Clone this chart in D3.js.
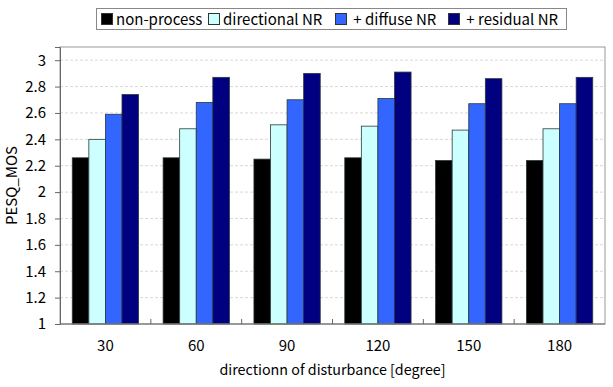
<!DOCTYPE html>
<html>
<head>
<meta charset="utf-8">
<script src="https://cdn.jsdelivr.net/npm/d3@7"></script>
<style>
  body { margin: 0; background: #fff; }
  text { font-family: "Noto Sans CJK JP", "DejaVu Sans", sans-serif; }
</style>
</head>
<body>
<svg id="chart" width="613" height="387"></svg>
<script>
// data
const angles = ["30", "60", "90", "120", "150", "180"];
const seriesNames = ["non-process", "directional NR", "\u00a0+ diffuse NR", "\u00a0+ residual NR"];
const seriesColors = ["#000000", "#ccffff", "#3366ff", "#000080"];
const nonProcess  = [2.26, 2.26, 2.25, 2.26, 2.24, 2.24];
const directional = [2.40, 2.48, 2.51, 2.50, 2.47, 2.48];
const diffuse     = [2.59, 2.68, 2.70, 2.71, 2.67, 2.67];
const residual    = [2.74, 2.87, 2.90, 2.91, 2.86, 2.87];
const yTicks = [1, 1.2, 1.4, 1.6, 1.8, 2, 2.2, 2.4, 2.6, 2.8, 3];

const allSeries = [nonProcess, directional, diffuse, residual];

const svg = d3.select("#chart");
const margin = {left: 60, top: 47, right: 8, bottom: 63};
const width = 613 - margin.left - margin.right;
const height = 387 - margin.top - margin.bottom;

const g = svg.append("g").attr("transform", `translate(${margin.left},${margin.top})`);

let x = d3.scaleBand().domain(angles).range([0, width]).paddingInner(0).paddingOuter(0);
let inner = d3.scaleBand().domain(d3.range(4)).range([0, x.bandwidth() * 0.73]);
let groupOffset = (x.bandwidth() - inner.range()[1]) / 2;
let y = d3.scaleLinear().domain([1, 3.1]).range([height, 0]);

// grid
g.append("g").selectAll("line").data(yTicks.slice(1)).join("line")
  .attr("x1", 0).attr("x2", width)
  .attr("y1", d => y(d)).attr("y2", d => y(d))
  .style("stroke", "#d8d8d8").style("stroke-dasharray", "3,2").style("stroke-width", 1);

// bars
allSeries.forEach((vals, si) => {
  g.append("g").selectAll("rect").data(vals).join("rect")
    .attr("x", (d, i) => x(angles[i]) + groupOffset + inner(si))
    .attr("y", d => y(d))
    .attr("width", inner.bandwidth())
    .attr("height", d => y(1) - y(d))
    .style("fill", seriesColors[si])
    .style("stroke", "#2a3a3a")
    .style("stroke-width", 0.8);
});

// frame
g.append("rect").attr("width", width).attr("height", height)
  .style("fill", "none").style("stroke", "#999").style("stroke-width", 1);

// y axis
let yAxis = g.append("g")
  .call(d3.axisLeft(y).tickValues(yTicks).tickFormat(d3.format("")).tickSize(5).tickPadding(9));
yAxis.select(".domain").style("stroke", "#666");
yAxis.selectAll(".tick line").style("stroke", "#666");
yAxis.selectAll("text").style("font-size", "15px").style("fill", "#000");

// x axis: ticks between categories pointing up
let xAxisG = g.append("g").attr("transform", `translate(0,${height})`);
xAxisG.append("line").attr("x1", 0).attr("x2", width).style("stroke", "#666");
xAxisG.selectAll(".sep").data(angles.slice(1)).join("line")
  .attr("class", "sep")
  .attr("x1", d => x(d)).attr("x2", d => x(d))
  .attr("y1", 0).attr("y2", -5)
  .style("stroke", "#666");
xAxisG.selectAll(".lab").data(angles).join("text")
  .attr("class", "lab")
  .attr("x", d => x(d) + x.bandwidth() / 2)
  .attr("y", 27)
  .attr("text-anchor", "middle")
  .style("font-size", "15px")
  .text(d => d);

// axis titles
svg.append("text")
  .attr("x", margin.left + width / 2)
  .attr("y", 375)
  .attr("text-anchor", "middle")
  .style("font-size", "14.3px")
  .text("directionn of disturbance [degree]");

svg.append("text")
  .attr("transform", `translate(17,${margin.top + height / 2}) rotate(-90)`)
  .attr("text-anchor", "middle")
  .style("font-size", "15px")
  .text("PESQ_MOS");

// legend
let legend = svg.append("g");
legend.append("rect").attr("x", 96.5).attr("y", 8.5).attr("width", 470).attr("height", 21)
  .style("fill", "#fff").style("stroke", "#888");
const legendX = [101, 208, 335, 448];
seriesNames.forEach((name, i) => {
  legend.append("rect").attr("x", legendX[i] + 0.5).attr("y", 13.5).attr("width", 11).attr("height", 11)
    .style("fill", seriesColors[i]).style("stroke", "#333");
  legend.append("text").attr("x", legendX[i] + 15).attr("y", 24.5)
    .style("font-size", "15px")
    .text(name);
});
</script>
</body>
</html>
